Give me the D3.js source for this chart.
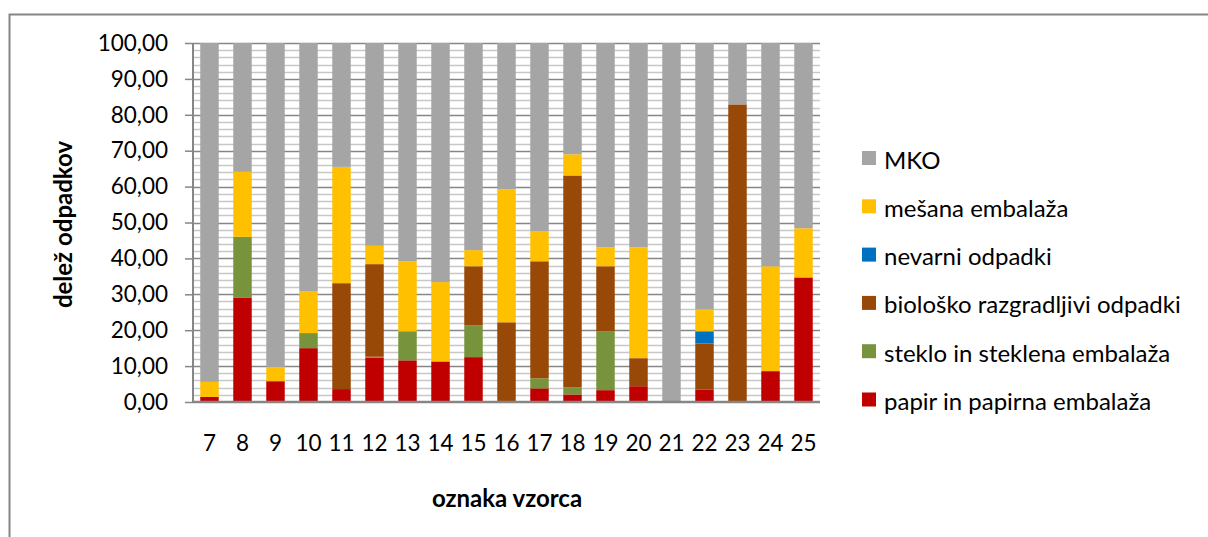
<!DOCTYPE html>
<html>
<head>
<meta charset="utf-8">
<script src="https://cdn.jsdelivr.net/npm/d3@7"></script>
<style>
  body { margin: 0; background: #fff; }
  text { font-family: Lato, "Open Sans", sans-serif; fill: #000; }
</style>
</head>
<body>
<div id="chart"></div>
<script>
// oznake vzorcev
const categories = ["7","8","9","10","11","12","13","14","15","16","17","18","19","20","21","22","23","24","25"];
// serije (od spodaj navzgor)
const seriesNames = ["papir in papirna embalaža", "steklo in steklena embalaža", "biološko razgradljivi odpadki", "nevarni odpadki", "mešana embalaža", "MKO"];
const papir    = [1.4, 29.0, 5.8, 15.0, 3.6, 12.3, 11.6, 11.3, 12.5, 0, 3.8, 2.1, 3.3, 4.4, 0, 3.5, 0, 8.6, 34.7];
const steklo   = [0, 17.0, 0, 4.2, 0, 0.3, 8.1, 0, 8.9, 0, 2.8, 2.0, 16.4, 0, 0, 0, 0, 0, 0];
const bio      = [0, 0, 0, 0, 29.5, 25.8, 0, 0, 16.4, 22.2, 32.6, 59.0, 18.1, 7.8, 0, 12.8, 82.9, 0, 0];
const nevarni  = [0, 0, 0, 0, 0, 0, 0, 0, 0, 0, 0, 0, 0, 0, 0, 3.4, 0, 0, 0];
const mesana   = [4.2, 18.1, 3.9, 11.7, 32.4, 5.1, 19.5, 22.1, 4.5, 37.0, 8.3, 5.9, 5.3, 30.9, 0, 6.1, 0, 29.2, 13.7];
const mko      = [94.4, 35.9, 90.3, 69.1, 34.5, 56.5, 60.8, 66.6, 57.7, 40.8, 52.5, 31.0, 56.9, 56.9, 100, 74.2, 17.1, 62.2, 51.6];
const yTicks = [0, 10, 20, 30, 40, 50, 60, 70, 80, 90, 100];
const colors = ["#C00000", "#77933C", "#984807", "#0070C0", "#FFC000", "#A5A5A5"];

const W = 1208, H = 537;
const margin = {top: 43, right: 388, bottom: 135, left: 193};
const width = W - margin.left - margin.right;
const height = H - margin.top - margin.bottom;

const root = d3.select("#chart").append("svg")
    .attr("width", W)
    .attr("height", H);

// okvir grafa (viden samo zgoraj in levo)
root.append("path")
    .attr("d", `M9.5,${H} L9.5,14.5 L${W},14.5`)
    .attr("fill", "none")
    .attr("stroke", "#868686")
    .attr("stroke-width", 2);

const svg = root.append("g")
    .attr("transform", `translate(${margin.left},${margin.top})`);

const table = categories.map((c, i) => ({
    cat: c,
    [seriesNames[0]]: papir[i],
    [seriesNames[1]]: steklo[i],
    [seriesNames[2]]: bio[i],
    [seriesNames[3]]: nevarni[i],
    [seriesNames[4]]: mesana[i],
    [seriesNames[5]]: mko[i]
}));

const stacked = d3.stack().keys(seriesNames)(table);

const x = d3.scaleBand()
    .domain(categories)
    .range([0, width])
    .paddingInner(0.44)
    .paddingOuter(0.22);

const y = d3.scaleLinear()
    .domain([0, 100])
    .range([height, 0]);

// pomožne mrežne črte
svg.append("g")
    .selectAll("line")
    .data(d3.range(2, 100, 2).filter(v => v % 10 !== 0))
    .enter().append("line")
    .attr("x1", 0).attr("x2", width)
    .attr("y1", d => Math.round(y(d)) + 0.5)
    .attr("y2", d => Math.round(y(d)) + 0.5)
    .attr("stroke", "#c8c8c8")
    .attr("stroke-width", 1.5);

// glavne mrežne črte
svg.append("g")
    .selectAll("line")
    .data(yTicks.slice(1))
    .enter().append("line")
    .attr("x1", 0).attr("x2", width)
    .attr("y1", d => Math.round(y(d)) + 0.5)
    .attr("y2", d => Math.round(y(d)) + 0.5)
    .attr("stroke", "#868686")
    .attr("stroke-width", 1.5);

// stolpci
svg.selectAll(".serie")
    .data(stacked)
    .enter().append("g")
    .attr("class", "serie")
    .attr("fill", (d, i) => colors[i])
    .selectAll("rect")
    .data(d => d)
    .enter().append("rect")
    .attr("x", d => x(d.data.cat))
    .attr("y", d => y(d[1]))
    .attr("width", x.bandwidth())
    .attr("height", d => y(d[0]) - y(d[1]));

// os Y
const yAxis = svg.append("g")
    .call(d3.axisLeft(y)
        .tickValues(yTicks)
        .tickSize(8)
        .tickPadding(17)
        .tickFormat(d => d3.format(".2f")(d).replace(".", ",")));
yAxis.selectAll("line").attr("stroke", "#868686").attr("stroke-width", 1.5);
yAxis.select(".domain").attr("stroke", "#868686").attr("stroke-width", 2).attr("d", `M0,0V${height}`);
yAxis.selectAll("text").style("font-size", "22.5px");

// os X
const xAxis = svg.append("g")
    .attr("transform", `translate(0,${height})`)
    .call(d3.axisBottom(x).tickSize(0).tickPadding(33));
xAxis.select(".domain").attr("stroke", "#868686").attr("stroke-width", 2.5).attr("d", `M0,0H${width}`);
xAxis.selectAll("text").style("font-size", "22.5px");

// naslova osi
svg.append("text")
    .attr("transform", `translate(${62 - margin.left},${height / 2 + 2}) rotate(-90)`)
    .attr("text-anchor", "middle")
    .attr("dominant-baseline", "central")
    .attr("font-weight", "bold")
    .style("font-size", "24px")
    .text("delež odpadkov");

svg.append("text")
    .attr("x", 507 - margin.left)
    .attr("y", 497 - margin.top)
    .attr("text-anchor", "middle")
    .attr("dominant-baseline", "central")
    .attr("font-weight", "bold")
    .style("font-size", "24px")
    .text("oznaka vzorca");

// legenda (MKO zgoraj)
const legend = root.append("g")
    .attr("transform", "translate(862,158)");
const legendItems = seriesNames.map((n, i) => ({name: n, color: colors[i]})).reverse();
const li = legend.selectAll("g")
    .data(legendItems)
    .enter().append("g")
    .attr("transform", (d, i) => `translate(0,${i * 48.3})`);
li.append("rect")
    .attr("x", 0).attr("y", -7)
    .attr("width", 14).attr("height", 14)
    .attr("fill", d => d.color);
li.append("text")
    .attr("x", 22)
    .attr("y", 1)
    .attr("dominant-baseline", "central")
    .style("font-size", "24px")
    .text(d => d.name);
</script>
</body>
</html>
